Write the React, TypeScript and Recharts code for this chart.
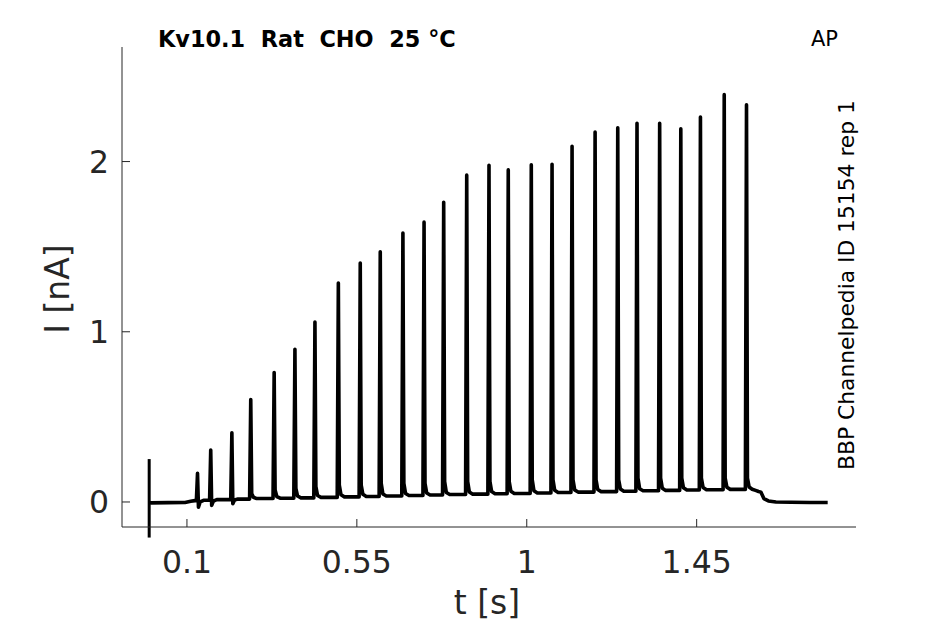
import React from 'react';
import { LineChart, Line, XAxis, YAxis, ReferenceLine } from 'recharts';

const xTicks = [0.1, 0.55, 1, 1.45];
const yTicks = [0, 1, 2];
const xDomain = [-0.072, 1.872];
const yDomain = [-0.147, 2.673];

// stimulus artifact at the start of the trace
const artifactT = 0;
const artifactTop = 0.252;
const artifactBottom = -0.209;

// baseline before the first spike
const leadT = [0, 0.004, 0.05, 0.095, 0.11, 0.121];
const leadI = [-0.004, -0.005, -0.004, -0.003, 0.004, 0.008];

// spikes
const spikeT = [0.128, 0.163, 0.219, 0.269, 0.331, 0.386, 0.439, 0.501, 0.559, 0.612, 0.672, 0.728, 0.78, 0.841, 0.9, 0.951, 1.012, 1.067, 1.12, 1.181, 1.241, 1.292, 1.352, 1.408, 1.46, 1.523, 1.582];
const spikePeak = [0.168, 0.305, 0.406, 0.602, 0.761, 0.897, 1.057, 1.286, 1.404, 1.47, 1.58, 1.644, 1.761, 1.92, 1.978, 1.951, 1.981, 1.984, 2.09, 2.174, 2.198, 2.225, 2.225, 2.192, 2.262, 2.393, 2.334];
const preI = [0.008, 0.01, 0.014, 0.017, 0.02, 0.022, 0.024, 0.027, 0.03, 0.032, 0.035, 0.038, 0.041, 0.044, 0.046, 0.048, 0.05, 0.053, 0.056, 0.058, 0.061, 0.063, 0.066, 0.068, 0.07, 0.072, 0.074];
const postI = [-0.03, -0.02, -0.01, 0.05, 0.07, 0.08, 0.09, 0.1, 0.1, 0.11, 0.11, 0.11, 0.12, 0.12, 0.12, 0.12, 0.13, 0.13, 0.13, 0.13, 0.13, 0.14, 0.14, 0.14, 0.14, 0.14, 0.14];
const decayI = [0.0, 0.005, 0.012, 0.028, 0.032, 0.035, 0.038, 0.042, 0.045, 0.047, 0.05, 0.053, 0.056, 0.059, 0.061, 0.063, 0.066, 0.069, 0.071, 0.073, 0.076, 0.078, 0.081, 0.083, 0.085, 0.087, 0.088];

// after the last spike
const tailT = [1.597, 1.606, 1.614, 1.62, 1.628, 1.64, 1.66, 1.7, 1.75, 1.797];
const tailI = [0.075, 0.068, 0.062, 0.058, 0.02, 0.006, 0.0, -0.002, -0.003, -0.003];

type Pt = { t: number; i: number };
const trace: Pt[] = [];
leadT.forEach((t, k) => trace.push({ t, i: leadI[k] }));
spikeT.forEach((t, k) => {
  trace.push({ t: t - 0.003, i: preI[k] });
  trace.push({ t, i: spikePeak[k] });
  trace.push({ t: t + 0.0025, i: postI[k] });
  trace.push({ t: t + 0.007, i: decayI[k] });
  if (k + 1 < spikeT.length) trace.push({ t: t + 0.016, i: preI[k + 1] });
});
tailT.forEach((t, k) => trace.push({ t, i: tailI[k] }));

const AXIS = '#262626';
const FONT = "'DejaVu Sans', sans-serif";

const XTick = (props: any) => {
  const { x, y, payload } = props;
  return (
    <g>
      <line x1={x} x2={x} y1={y} y2={y - 8} stroke={AXIS} strokeWidth={1} />
      <text x={x} y={y + 45.5} textAnchor="middle" fontSize={31.5} fill={AXIS} fontFamily={FONT}>
        {String(payload.value)}
      </text>
    </g>
  );
};

const YTick = (props: any) => {
  const { x, y, payload } = props;
  return (
    <g>
      <line x1={x} x2={x + 8} y1={y} y2={y} stroke={AXIS} strokeWidth={1} />
      <text x={x - 13} y={y + 11.5} textAnchor="end" fontSize={31.5} fill={AXIS} fontFamily={FONT}>
        {String(payload.value)}
      </text>
    </g>
  );
};

export default function App() {
  return (
    <div style={{ position: 'absolute', left: 0, top: 0, width: 945, height: 624, background: '#fff' }}>
      <LineChart width={945} height={624} data={trace} margin={{ top: 47, right: 89, bottom: 0, left: 0 }}>
        <XAxis
          dataKey="t"
          type="number"
          domain={xDomain}
          allowDataOverflow
          ticks={xTicks}
          tick={<XTick />}
          tickLine={false}
          tickSize={0}
          tickMargin={0}
          height={97}
          axisLine={{ stroke: AXIS, strokeWidth: 1 }}
          interval={0}
        />
        <YAxis
          type="number"
          domain={yDomain}
          allowDataOverflow
          ticks={yTicks}
          tick={<YTick />}
          tickLine={false}
          tickSize={0}
          tickMargin={0}
          width={122}
          axisLine={{ stroke: AXIS, strokeWidth: 1 }}
          interval={0}
        />
        <Line
          dataKey="i"
          type="linear"
          stroke="#000"
          strokeWidth={3.6}
          strokeLinejoin="round"
          dot={false}
          isAnimationActive={false}
        />
        <ReferenceLine
          segment={[{ x: artifactT, y: artifactTop }, { x: artifactT, y: artifactBottom }]}
          stroke="#000"
          strokeWidth={3}
          ifOverflow="visible"
        />
      </LineChart>
      <svg width={945} height={624} style={{ position: 'absolute', left: 0, top: 0, pointerEvents: 'none' }}>
        <text x={158} y={46.5} fontSize={22.4} fontWeight="bold" fill="#000" fontFamily={FONT} style={{ whiteSpace: 'pre' }}>
          {'Kv10.1  Rat  CHO  25 °C'}
        </text>
        <text x={811} y={46} fontSize={21} fill="#000" fontFamily={FONT}>AP</text>
        <text x={854} y={285} fontSize={21.8} fill="#000" fontFamily={FONT} textAnchor="middle" transform="rotate(-90 854 285)">
          BBP Channelpedia ID 15154 rep 1
        </text>
        <text x={69} y={289} fontSize={33} fill={AXIS} fontFamily={FONT} textAnchor="middle" transform="rotate(-90 69 289)">
          I [nA]
        </text>
        <text x={487} y={614} fontSize={33} fill={AXIS} fontFamily={FONT} textAnchor="middle">
          t [s]
        </text>
      </svg>
    </div>
  );
}
